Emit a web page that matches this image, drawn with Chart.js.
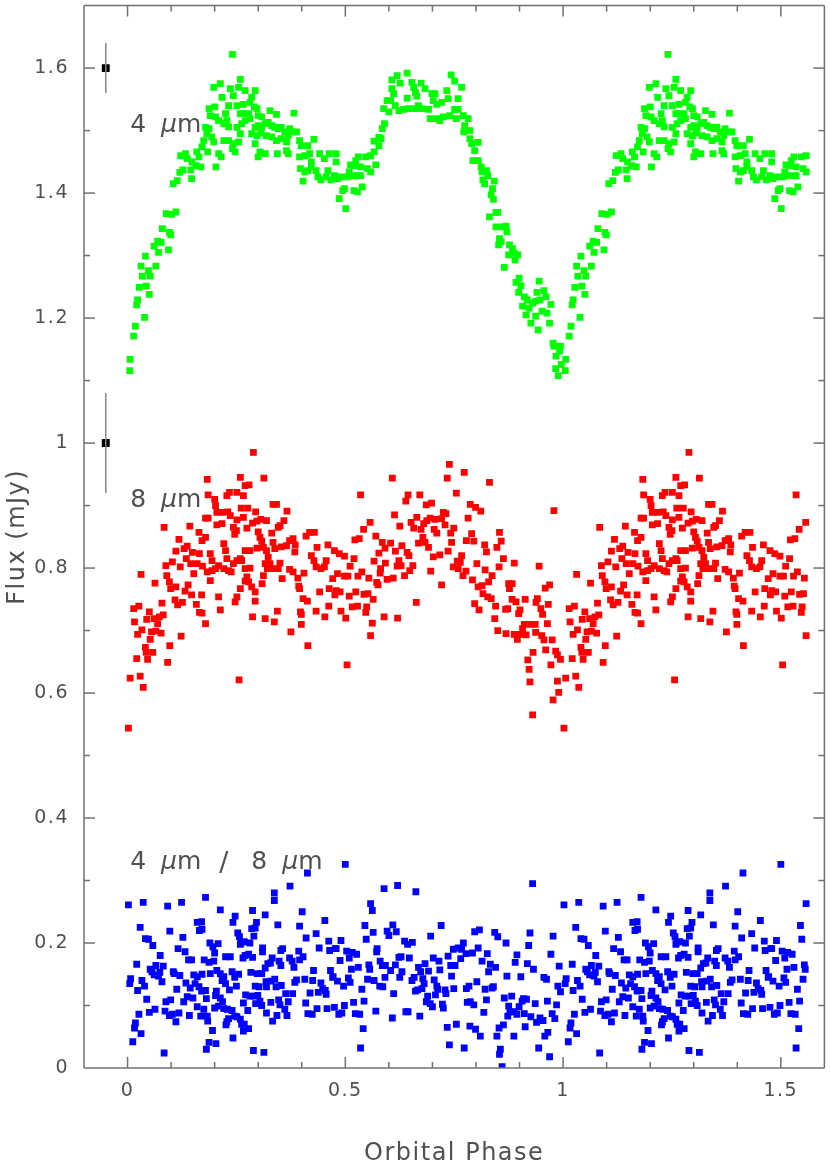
<!DOCTYPE html>
<html>
<head>
<meta charset="utf-8">
<script src="https://cdn.jsdelivr.net/npm/chart.js@4.4.0/dist/chart.umd.min.js"></script>
<style>
  html, body { margin: 0; padding: 0; background: #fff; overflow: hidden; }
  canvas { display: block; }
</style>
</head>
<body>
<canvas id="chart" width="830" height="1160"></canvas>
<script>
// [orbital phase, flux in mJy] for one cycle; phases below lastPhase are repeated at phase + 1
const green = [
  [0.005,1.116],[0.006,1.134],[0.014,1.171],[0.018,1.187],[0.039,1.201],[0.021,1.221],[0.023,1.229],[0.027,1.249],
  [0.043,1.251],[0.050,1.238],[0.034,1.267],[0.052,1.267],[0.031,1.283],[0.048,1.276],[0.065,1.283],[0.041,1.299],
  [0.071,1.305],[0.094,1.309],[0.061,1.315],[0.069,1.323],[0.077,1.321],[0.080,1.343],[0.096,1.337],[0.099,1.333],
  [0.089,1.367],[0.111,1.370],[0.101,1.366],[0.105,1.415],[0.114,1.420],[0.120,1.433],[0.127,1.437],[0.147,1.423],
  [0.122,1.460],[0.133,1.463],[0.137,1.455],[0.148,1.450],[0.157,1.444],[0.168,1.442],[0.145,1.437],[0.164,1.458],
  [0.159,1.466],[0.171,1.474],[0.184,1.466],[0.203,1.442],[0.209,1.463],[0.215,1.458],[0.175,1.484],[0.182,1.495],
  [0.187,1.503],[0.179,1.505],[0.193,1.490],[0.198,1.482],[0.187,1.535],[0.200,1.538],[0.190,1.524],[0.202,1.522],
  [0.209,1.516],[0.221,1.511],[0.228,1.516],[0.225,1.527],[0.232,1.506],[0.221,1.484],[0.232,1.484],[0.241,1.471],
  [0.247,1.466],[0.243,1.479],[0.255,1.482],[0.259,1.495],[0.251,1.505],[0.262,1.511],[0.266,1.527],[0.259,1.527],
  [0.270,1.516],[0.278,1.527],[0.281,1.519],[0.213,1.575],[0.198,1.569],[0.236,1.567],[0.255,1.569],[0.270,1.564],
  [0.293,1.564],[0.285,1.553],[0.281,1.545],[0.217,1.553],[0.243,1.556],[0.232,1.540],[0.251,1.540],[0.266,1.542],
  [0.259,1.582],[0.241,1.622],[0.291,1.538],[0.297,1.535],[0.300,1.524],[0.308,1.522],[0.327,1.532],[0.342,1.526],
  [0.382,1.528],[0.293,1.505],[0.300,1.508],[0.308,1.505],[0.316,1.511],[0.323,1.513],[0.331,1.508],[0.338,1.505],
  [0.346,1.503],[0.353,1.505],[0.361,1.498],[0.372,1.503],[0.380,1.498],[0.285,1.495],[0.297,1.492],[0.306,1.496],
  [0.319,1.492],[0.331,1.490],[0.342,1.484],[0.353,1.487],[0.365,1.482],[0.369,1.492],[0.388,1.498],[0.293,1.479],
  [0.304,1.466],[0.316,1.463],[0.300,1.458],[0.344,1.463],[0.365,1.468],[0.369,1.463],[0.395,1.484],[0.399,1.476],
  [0.414,1.476],[0.428,1.486],[0.395,1.458],[0.407,1.460],[0.418,1.463],[0.422,1.450],[0.441,1.463],[0.452,1.455],
  [0.463,1.463],[0.479,1.463],[0.397,1.439],[0.407,1.434],[0.414,1.436],[0.403,1.419],[0.422,1.442],[0.433,1.436],
  [0.437,1.426],[0.444,1.421],[0.456,1.426],[0.460,1.436],[0.467,1.421],[0.479,1.450],[0.475,1.428],[0.482,1.423],
  [0.490,1.426],[0.498,1.407],[0.486,1.391],[0.501,1.375],[0.520,1.404],[0.509,1.434],[0.520,1.444],[0.524,1.452],
  [0.494,1.404],[0.528,1.402],[0.539,1.410],[0.505,1.426],[0.517,1.428],[0.528,1.428],[0.535,1.428],[0.535,1.442],
  [0.551,1.439],[0.558,1.434],[0.512,1.445],[0.530,1.458],[0.547,1.458],[0.558,1.460],[0.566,1.466],[0.570,1.445],
  [0.577,1.476],[0.566,1.483],[0.577,1.489],[0.582,1.487],[0.585,1.503],[0.590,1.511],[0.588,1.535],[0.600,1.530],
  [0.596,1.548],[0.604,1.548],[0.615,1.540],[0.623,1.532],[0.634,1.534],[0.645,1.535],[0.661,1.535],[0.668,1.540],
  [0.676,1.535],[0.691,1.534],[0.695,1.519],[0.710,1.519],[0.717,1.516],[0.725,1.522],[0.740,1.524],[0.751,1.534],
  [0.759,1.534],[0.755,1.519],[0.771,1.524],[0.782,1.519],[0.607,1.567],[0.611,1.559],[0.607,1.581],[0.619,1.588],
  [0.626,1.576],[0.642,1.592],[0.653,1.577],[0.657,1.569],[0.661,1.561],[0.674,1.576],[0.683,1.567],[0.664,1.555],
  [0.642,1.552],[0.699,1.559],[0.706,1.559],[0.702,1.548],[0.710,1.542],[0.721,1.545],[0.733,1.564],[0.736,1.551],
  [0.743,1.589],[0.751,1.579],[0.767,1.569],[0.759,1.551],[0.774,1.508],[0.778,1.500],[0.772,1.498],[0.786,1.500],
  [0.786,1.487],[0.790,1.479],[0.805,1.481],[0.797,1.468],[0.793,1.452],[0.805,1.452],[0.812,1.442],[0.814,1.434],
  [0.824,1.436],[0.827,1.428],[0.816,1.421],[0.820,1.415],[0.842,1.419],[0.838,1.407],[0.835,1.397],[0.840,1.390],
  [0.831,1.362],[0.846,1.369],[0.850,1.369],[0.846,1.346],[0.861,1.346],[0.869,1.347],[0.871,1.338],[0.854,1.327],
  [0.858,1.322],[0.852,1.317],[0.877,1.317],[0.884,1.311],[0.888,1.304],[0.896,1.301],[0.875,1.301],[0.890,1.293],
  [0.865,1.281],[0.899,1.264],[0.892,1.257],[0.903,1.252],[0.898,1.241],[0.911,1.234],[0.918,1.229],[0.907,1.219],
  [0.922,1.216],[0.915,1.205],[0.930,1.224],[0.937,1.227],[0.940,1.241],[0.947,1.229],[0.945,1.259],[0.956,1.244],
  [0.961,1.234],[0.972,1.222],[0.952,1.211],[0.963,1.208],[0.926,1.192],[0.937,1.203],[0.943,1.181],[0.969,1.192],
  [0.977,1.160],[0.979,1.155],[0.994,1.155],[0.992,1.147],[0.984,1.139],[0.983,1.119],[0.989,1.108],[0.996,1.126]
];

const red = [
  [0.002,0.544],[0.006,0.624],[0.029,0.627],[0.036,0.609],[0.021,0.655],[0.046,0.654],[0.041,0.673],[0.043,0.665],
  [0.058,0.665],[0.052,0.686],[0.023,0.694],[0.033,0.701],[0.055,0.698],[0.065,0.699],[0.077,0.696],[0.092,0.649],
  [0.097,0.676],[0.123,0.691],[0.016,0.714],[0.014,0.735],[0.026,0.739],[0.050,0.730],[0.044,0.718],[0.061,0.719],
  [0.069,0.711],[0.073,0.722],[0.082,0.725],[0.079,0.744],[0.031,0.790],[0.063,0.776],[0.084,0.865],[0.088,0.804],
  [0.090,0.788],[0.096,0.778],[0.099,0.767],[0.111,0.770],[0.109,0.749],[0.115,0.741],[0.126,0.745],[0.103,0.810],
  [0.111,0.827],[0.118,0.846],[0.121,0.802],[0.130,0.831],[0.137,0.835],[0.135,0.815],[0.139,0.773],[0.132,0.763],
  [0.143,0.867],[0.149,0.825],[0.147,0.757],[0.145,0.807],[0.152,0.791],[0.158,0.742],[0.164,0.857],[0.171,0.844],
  [0.165,0.823],[0.160,0.807],[0.172,0.803],[0.179,0.849],[0.170,0.757],[0.165,0.729],[0.171,0.728],[0.179,0.711],
  [0.179,0.880],[0.185,0.880],[0.183,0.942],[0.185,0.917],[0.183,0.794],[0.190,0.823],[0.194,0.812],[0.200,0.910],
  [0.202,0.900],[0.205,0.889],[0.190,0.780],[0.194,0.796],[0.202,0.799],[0.209,0.804],[0.209,0.754],[0.213,0.733],
  [0.205,0.869],[0.217,0.871],[0.221,0.839],[0.225,0.828],[0.228,0.815],[0.217,0.889],[0.230,0.890],[0.236,0.884],
  [0.228,0.916],[0.234,0.921],[0.251,0.921],[0.259,0.945],[0.266,0.916],[0.270,0.932],[0.279,0.933],[0.289,0.985],
  [0.313,0.944],[0.221,0.799],[0.232,0.796],[0.238,0.794],[0.243,0.807],[0.251,0.812],[0.243,0.865],[0.250,0.860],
  [0.246,0.854],[0.251,0.877],[0.261,0.896],[0.266,0.881],[0.274,0.864],[0.276,0.896],[0.287,0.872],[0.294,0.890],
  [0.297,0.875],[0.306,0.878],[0.319,0.876],[0.300,0.858],[0.304,0.849],[0.308,0.843],[0.297,0.832],[0.312,0.833],
  [0.319,0.828],[0.331,0.856],[0.334,0.841],[0.338,0.831],[0.342,0.902],[0.334,0.902],[0.346,0.865],[0.350,0.868],
  [0.359,0.876],[0.366,0.891],[0.353,0.834],[0.365,0.836],[0.372,0.844],[0.380,0.847],[0.385,0.837],[0.384,0.826],
  [0.270,0.828],[0.281,0.828],[0.259,0.815],[0.270,0.799],[0.281,0.800],[0.262,0.812],[0.274,0.786],[0.270,0.779],
  [0.278,0.778],[0.285,0.770],[0.259,0.767],[0.251,0.754],[0.247,0.746],[0.293,0.762],[0.293,0.747],[0.312,0.788],
  [0.309,0.775],[0.316,0.807],[0.321,0.799],[0.327,0.807],[0.334,0.799],[0.323,0.817],[0.346,0.799],[0.350,0.808],
  [0.355,0.783],[0.372,0.798],[0.380,0.794],[0.391,0.784],[0.405,0.792],[0.287,0.722],[0.316,0.719],[0.337,0.714],
  [0.344,0.731],[0.375,0.698],[0.256,0.621],[0.393,0.771],[0.395,0.767],[0.403,0.751],[0.413,0.747],[0.397,0.730],
  [0.399,0.726],[0.414,0.676],[0.410,0.851],[0.418,0.857],[0.429,0.857],[0.435,0.833],[0.422,0.820],[0.428,0.812],
  [0.433,0.802],[0.444,0.799],[0.452,0.802],[0.456,0.812],[0.460,0.837],[0.475,0.828],[0.441,0.762],[0.463,0.767],
  [0.471,0.783],[0.433,0.731],[0.453,0.722],[0.462,0.739],[0.399,0.710],[0.486,0.823],[0.498,0.819],[0.511,0.803],
  [0.520,0.815],[0.482,0.791],[0.498,0.787],[0.506,0.787],[0.479,0.764],[0.488,0.762],[0.476,0.757],[0.509,0.755],
  [0.524,0.762],[0.490,0.731],[0.501,0.720],[0.516,0.738],[0.528,0.739],[0.504,0.645],[0.535,0.917],[0.522,0.845],
  [0.532,0.847],[0.542,0.862],[0.557,0.873],[0.570,0.851],[0.577,0.824],[0.585,0.841],[0.591,0.832],[0.604,0.840],
  [0.566,0.811],[0.581,0.799],[0.592,0.808],[0.580,0.792],[0.529,0.787],[0.538,0.794],[0.554,0.784],[0.572,0.777],
  [0.575,0.773],[0.596,0.782],[0.610,0.784],[0.543,0.758],[0.552,0.759],[0.564,0.750],[0.549,0.738],[0.547,0.729],
  [0.562,0.712],[0.558,0.692],[0.589,0.722],[0.620,0.720],[0.608,0.944],[0.644,0.917],[0.639,0.907],[0.671,0.917],
  [0.613,0.885],[0.625,0.867],[0.615,0.827],[0.630,0.836],[0.642,0.825],[0.646,0.820],[0.623,0.812],[0.628,0.804],
  [0.619,0.803],[0.655,0.804],[0.648,0.796],[0.636,0.788],[0.663,0.745],[0.651,0.873],[0.657,0.864],[0.664,0.881],
  [0.674,0.862],[0.680,0.871],[0.687,0.876],[0.695,0.880],[0.706,0.878],[0.686,0.901],[0.698,0.904],[0.725,0.889],
  [0.731,0.887],[0.721,0.879],[0.729,0.869],[0.668,0.840],[0.678,0.849],[0.683,0.841],[0.691,0.833],[0.704,0.862],
  [0.710,0.856],[0.717,0.821],[0.702,0.818],[0.696,0.795],[0.721,0.773],[0.736,0.827],[0.742,0.856],[0.749,0.864],
  [0.744,0.841],[0.739,0.966],[0.734,0.944],[0.755,0.920],[0.773,0.953],[0.831,0.937],[0.787,0.902],[0.799,0.897],
  [0.811,0.891],[0.782,0.880],[0.790,0.855],[0.778,0.844],[0.795,0.843],[0.748,0.802],[0.759,0.799],[0.757,0.811],
  [0.767,0.820],[0.764,0.809],[0.777,0.795],[0.770,0.788],[0.792,0.781],[0.802,0.807],[0.820,0.837],[0.824,0.826],
  [0.821,0.797],[0.837,0.788],[0.829,0.778],[0.854,0.857],[0.858,0.843],[0.848,0.833],[0.863,0.815],[0.853,0.802],
  [0.888,0.808],[0.805,0.770],[0.814,0.772],[0.816,0.759],[0.827,0.754],[0.835,0.751],[0.797,0.743],[0.807,0.733],
  [0.845,0.739],[0.843,0.719],[0.850,0.700],[0.868,0.734],[0.873,0.735],[0.869,0.695],[0.875,0.775],[0.883,0.775],
  [0.877,0.767],[0.883,0.750],[0.892,0.746],[0.901,0.733],[0.898,0.727],[0.913,0.750],[0.941,0.751],[0.945,0.803],
  [0.959,0.768],[0.969,0.773],[0.938,0.745],[0.949,0.735],[0.953,0.726],[0.966,0.742],[0.964,0.711],[0.911,0.710],
  [0.907,0.703],[0.926,0.710],[0.936,0.710],[0.915,0.693],[0.903,0.694],[0.894,0.693],[0.888,0.694],[0.895,0.686],
  [0.937,0.697],[0.951,0.692],[0.956,0.685],[0.975,0.685],[0.979,0.892],[0.931,0.665],[0.919,0.653],[0.922,0.638],
  [0.924,0.618],[0.930,0.565],[0.960,0.669],[0.983,0.667],[0.987,0.661],[0.994,0.654],[0.972,0.645],[0.987,0.619],
  [0.990,0.601],[0.977,0.589]
];

const blue = [
  [0.002,0.261],[0.036,0.265],[0.092,0.259],[0.124,0.265],[0.179,0.273],[0.213,0.253],[0.247,0.243],[0.287,0.252],
  [0.316,0.245],[0.337,0.280],[0.337,0.268],[0.373,0.291],[0.413,0.312],[0.401,0.250],[0.453,0.236],[0.395,0.227],
  [0.345,0.229],[0.029,0.225],[0.097,0.219],[0.160,0.233],[0.170,0.234],[0.165,0.220],[0.171,0.222],[0.242,0.233],
  [0.296,0.233],[0.285,0.223],[0.293,0.224],[0.253,0.216],[0.257,0.210],[0.290,0.211],[0.041,0.207],[0.048,0.206],
  [0.058,0.196],[0.127,0.209],[0.116,0.191],[0.132,0.186],[0.189,0.200],[0.196,0.194],[0.208,0.199],[0.200,0.184],
  [0.261,0.201],[0.268,0.202],[0.281,0.200],[0.259,0.198],[0.310,0.192],[0.310,0.186],[0.352,0.188],[0.356,0.191],
  [0.410,0.208],[0.433,0.215],[0.462,0.203],[0.440,0.192],[0.464,0.188],[0.477,0.191],[0.075,0.180],[0.021,0.166],
  [0.065,0.164],[0.082,0.163],[0.052,0.158],[0.056,0.154],[0.061,0.149],[0.071,0.147],[0.074,0.153],[0.079,0.138],
  [0.007,0.143],[0.005,0.135],[0.033,0.140],[0.039,0.131],[0.023,0.124],[0.044,0.110],[0.140,0.173],[0.147,0.173],
  [0.176,0.173],[0.187,0.169],[0.198,0.171],[0.225,0.178],[0.236,0.178],[0.265,0.176],[0.270,0.180],[0.278,0.182],
  [0.287,0.177],[0.322,0.167],[0.328,0.168],[0.332,0.176],[0.348,0.171],[0.352,0.164],[0.372,0.176],[0.378,0.171],
  [0.382,0.161],[0.393,0.187],[0.395,0.173],[0.403,0.178],[0.105,0.154],[0.107,0.151],[0.120,0.148],[0.113,0.126],
  [0.134,0.136],[0.144,0.128],[0.152,0.149],[0.160,0.146],[0.171,0.150],[0.155,0.135],[0.164,0.130],[0.170,0.123],
  [0.179,0.124],[0.190,0.151],[0.205,0.156],[0.213,0.151],[0.221,0.146],[0.217,0.140],[0.225,0.135],[0.240,0.154],
  [0.246,0.145],[0.255,0.150],[0.250,0.131],[0.234,0.125],[0.204,0.123],[0.283,0.153],[0.298,0.151],[0.308,0.151],
  [0.316,0.160],[0.318,0.138],[0.293,0.131],[0.302,0.130],[0.329,0.139],[0.338,0.142],[0.341,0.130],[0.353,0.132],
  [0.319,0.130],[0.384,0.137],[0.388,0.141],[0.407,0.142],[0.425,0.140],[0.444,0.136],[0.448,0.127],[0.438,0.121],
  [0.454,0.124],[0.456,0.118],[0.466,0.156],[0.472,0.146],[0.427,0.156],[0.419,0.120],[0.379,0.119],[0.363,0.119],
  [0.347,0.109],[0.350,0.101],[0.369,0.106],[0.361,0.094],[0.366,0.084],[0.343,0.084],[0.333,0.075],[0.329,0.105],
  [0.319,0.088],[0.304,0.107],[0.308,0.100],[0.294,0.103],[0.281,0.115],[0.271,0.117],[0.289,0.115],[0.299,0.116],
  [0.276,0.092],[0.266,0.104],[0.409,0.104],[0.435,0.095],[0.414,0.087],[0.424,0.086],[0.458,0.095],[0.475,0.097],
  [0.129,0.106],[0.137,0.114],[0.150,0.112],[0.160,0.098],[0.175,0.094],[0.181,0.111],[0.202,0.116],[0.213,0.112],
  [0.218,0.106],[0.200,0.096],[0.209,0.099],[0.221,0.095],[0.229,0.094],[0.240,0.092],[0.246,0.083],[0.251,0.082],
  [0.232,0.079],[0.228,0.074],[0.226,0.069],[0.259,0.078],[0.262,0.070],[0.268,0.070],[0.278,0.063],[0.266,0.059],
  [0.183,0.083],[0.184,0.075],[0.168,0.083],[0.142,0.084],[0.118,0.088],[0.103,0.086],[0.096,0.084],[0.086,0.091],
  [0.088,0.106],[0.099,0.109],[0.063,0.094],[0.050,0.089],[0.026,0.086],[0.018,0.072],[0.016,0.064],[0.031,0.055],
  [0.012,0.042],[0.111,0.074],[0.195,0.060],[0.242,0.048],[0.084,0.024],[0.181,0.030],[0.187,0.041],[0.203,0.039],
  [0.289,0.028],[0.313,0.025],[0.500,0.326],[0.589,0.287],[0.620,0.292],[0.662,0.282],[0.930,0.295],[0.558,0.263],
  [0.562,0.252],[0.545,0.228],[0.564,0.217],[0.548,0.206],[0.609,0.229],[0.596,0.219],[0.600,0.212],[0.617,0.218],
  [0.720,0.228],[0.696,0.211],[0.636,0.203],[0.643,0.198],[0.654,0.201],[0.797,0.218],[0.808,0.221],[0.843,0.217],
  [0.850,0.210],[0.869,0.200],[0.924,0.216],[0.977,0.211],[0.921,0.196],[0.490,0.204],[0.479,0.191],[0.503,0.187],
  [0.516,0.185],[0.526,0.182],[0.573,0.191],[0.572,0.186],[0.509,0.176],[0.488,0.172],[0.580,0.171],[0.585,0.164],
  [0.554,0.165],[0.556,0.158],[0.530,0.161],[0.514,0.158],[0.592,0.164],[0.604,0.156],[0.615,0.165],[0.623,0.177],
  [0.628,0.178],[0.647,0.176],[0.630,0.154],[0.625,0.145],[0.668,0.161],[0.673,0.154],[0.683,0.167],[0.691,0.155],
  [0.702,0.176],[0.715,0.171],[0.717,0.157],[0.736,0.179],[0.748,0.190],[0.759,0.192],[0.767,0.190],[0.771,0.200],
  [0.777,0.183],[0.765,0.175],[0.792,0.184],[0.805,0.192],[0.826,0.183],[0.814,0.171],[0.833,0.166],[0.845,0.161],
  [0.829,0.154],[0.742,0.164],[0.752,0.164],[0.744,0.147],[0.890,0.169],[0.894,0.181],[0.918,0.167],[0.932,0.158],
  [0.972,0.182],[0.991,0.163],[0.871,0.147],[0.903,0.146],[0.956,0.145],[0.962,0.142],[0.471,0.145],[0.482,0.139],
  [0.496,0.131],[0.507,0.144],[0.511,0.137],[0.551,0.142],[0.566,0.140],[0.579,0.131],[0.586,0.130],[0.591,0.145],
  [0.653,0.140],[0.658,0.145],[0.678,0.143],[0.681,0.135],[0.676,0.127],[0.661,0.123],[0.666,0.125],[0.704,0.141],
  [0.710,0.131],[0.712,0.126],[0.729,0.125],[0.731,0.119],[0.707,0.117],[0.689,0.115],[0.686,0.106],[0.695,0.103],
  [0.700,0.098],[0.723,0.102],[0.725,0.096],[0.749,0.127],[0.778,0.127],[0.784,0.131],[0.802,0.138],[0.821,0.126],
  [0.837,0.128],[0.840,0.130],[0.824,0.109],[0.780,0.105],[0.787,0.106],[0.795,0.101],[0.818,0.089],[0.865,0.112],
  [0.882,0.115],[0.875,0.099],[0.878,0.090],[0.873,0.083],[0.888,0.090],[0.894,0.086],[0.899,0.098],[0.906,0.107],
  [0.909,0.111],[0.916,0.110],[0.911,0.087],[0.936,0.103],[0.964,0.107],[0.985,0.101],[0.994,0.122],[0.988,0.131],
  [0.926,0.082],[0.947,0.080],[0.954,0.076],[0.939,0.073],[0.975,0.087],[0.981,0.079],[0.913,0.066],[0.863,0.069],
  [0.853,0.064],[0.848,0.051],[0.887,0.051],[0.965,0.057],[0.958,0.051],[0.786,0.067],[0.799,0.062],[0.810,0.051],
  [0.755,0.070],[0.734,0.065],[0.739,0.037],[0.773,0.032],[0.856,0.030],[0.854,0.022],[0.860,0.002],[0.944,0.032],
  [0.969,0.018],[0.671,0.083],[0.639,0.090],[0.644,0.090],[0.608,0.080],[0.570,0.091],[0.541,0.063],[0.535,0.032],
  [0.523,0.087],[0.533,0.086],[0.543,0.107],[0.538,0.126],[0.519,0.105],[0.498,0.100],[0.492,0.088],[0.485,0.086],
  [0.611,0.119]
];

// typical error bars: [phase, flux, half-length]
const errorBars = [[-0.05, 1.6, 0.04], [-0.05, 1.0, 0.08]];

// series labels: [phase, flux at text baseline, text pieces]
const seriesLabels = [
  [0.006, 1.498, ['4', 'μm']],
  [0.006, 0.897, ['8', 'μm']],
  [0.006, 0.319, ['4', 'μm', '/', '8', 'μm']]
];

const lastPhase = 1.56;
const FONT = "'DejaVu Sans', sans-serif";
const INK = '#505050';
const AXIS = '#707070';

function near(v, step) {
  return Math.abs(v / step - Math.round(v / step)) < 1e-6;
}
function fmt(v) {
  return String(Math.round(v * 10) / 10);
}
function fold(pairs) {
  const pts = pairs.map(p => ({x: p[0], y: p[1]}));
  pairs.forEach(p => {
    if (p[0] + 1 <= lastPhase) pts.push({x: p[0] + 1, y: p[1]});
  });
  return pts;
}

function scatterSet(pairs, color) {
  return {
    data: fold(pairs),
    pointStyle: 'rect',
    pointRadius: 4.8,
    backgroundColor: color,
    borderColor: color,
    borderWidth: 0
  };
}

const datasets = [
  scatterSet(green, '#00ff00'),
  scatterSet(red, '#ff0000'),
  scatterSet(blue, '#0000ff')
];
errorBars.forEach(e => {
  datasets.push({
    type: 'line',
    data: [{x: e[0], y: e[1] - e[2]}, {x: e[0], y: e[1] + e[2]}],
    borderColor: '#888',
    borderWidth: 1.5,
    pointRadius: 0,
    showLine: true
  });
});
datasets.push({
  data: errorBars.map(e => ({x: e[0], y: e[1]})),
  pointStyle: 'rect',
  pointRadius: 5.6,
  backgroundColor: '#000',
  borderWidth: 0
});

function line(ctx, x1, y1, x2, y2) {
  ctx.beginPath();
  ctx.moveTo(x1, y1);
  ctx.lineTo(x2, y2);
  ctx.stroke();
}

// wide lettering for the axis text, like the plotting font of the original
const spacingPlugin = {
  id: 'spacing',
  beforeDraw(chart) {
    chart.ctx.letterSpacing = '1.5px';
  }
};

// frame with inward ticks on all four sides
const framePlugin = {
  id: 'frame',
  afterDatasetsDraw(chart) {
    const {ctx, chartArea: a, scales: {x, y}} = chart;
    ctx.save();
    ctx.globalAlpha = 1;
    ctx.setLineDash([]);
    ctx.strokeStyle = AXIS;
    ctx.lineWidth = 1.5;
    line(ctx, a.left, a.top, a.right, a.top);
    line(ctx, a.right, a.top, a.right, a.bottom);
    line(ctx, a.left, a.bottom, a.right, a.bottom);
    line(ctx, a.left, a.top, a.left, a.bottom);
    x.ticks.forEach(t => {
      const px = x.getPixelForValue(t.value);
      if (px <= a.left + 1 || px >= a.right - 1) return;
      const len = near(t.value, 0.5) ? 11 : 6;
      line(ctx, px, a.bottom, px, a.bottom - len);
      line(ctx, px, a.top, px, a.top + len);
    });
    y.ticks.forEach(t => {
      const py = y.getPixelForValue(t.value);
      if (py <= a.top + 1 || py >= a.bottom - 1) return;
      const len = near(t.value, 0.2) ? 11 : 6;
      line(ctx, a.left, py, a.left + len, py);
      line(ctx, a.right, py, a.right - len, py);
    });
    ctx.restore();
  }
};

// series labels anchored at data coordinates
const labelPlugin = {
  id: 'seriesLabels',
  afterDraw(chart) {
    const {ctx, scales: {x, y}} = chart;
    ctx.save();
    ctx.letterSpacing = '0px';
    ctx.fillStyle = INK;
    ctx.textBaseline = 'alphabetic';
    ctx.textAlign = 'left';
    seriesLabels.forEach(([phase, flux, parts]) => {
      let px = x.getPixelForValue(phase);
      const py = y.getPixelForValue(flux);
      parts.forEach(part => {
        let w = 0;
        if (part.startsWith('μ')) {
          ctx.font = 'italic 25px ' + FONT;
          ctx.fillText('μ', px, py);
          w += ctx.measureText('μ').width;
          ctx.font = '25px ' + FONT;
          ctx.fillText(part.slice(1), px + w, py);
          w += ctx.measureText(part.slice(1)).width;
        } else if (part === '/') {
          ctx.font = '27px ' + FONT;
          ctx.fillText(part, px + 3, py + 2);
          w = 20;
        } else {
          ctx.font = '25px ' + FONT;
          ctx.fillText(part, px, py);
          w += ctx.measureText(part).width;
        }
        px += w + 15;
      });
    });
    ctx.restore();
  }
};

new Chart(document.getElementById('chart'), {
  type: 'scatter',
  data: {datasets: datasets},
  options: {
    responsive: false,
    devicePixelRatio: 1,
    animation: false,
    events: [],
    layout: {padding: {top: 2, right: 1, left: 0, bottom: 0}},
    plugins: {legend: {display: false}, tooltip: {enabled: false}},
    scales: {
      x: {
        type: 'linear',
        min: -0.1,
        max: 1.6,
        afterFit: s => { s.height = 92; s.paddingLeft = 0; s.paddingRight = 0; },
        border: {display: false},
        grid: {display: false, drawTicks: false},
        ticks: {
          stepSize: 0.1,
          autoSkip: false,
          maxRotation: 0,
          padding: 12,
          color: INK,
          font: {family: FONT, size: 19},
          callback: v => near(v, 0.5) ? fmt(v) : ''
        },
        title: {
          display: true,
          text: 'Orbital Phase',
          color: INK,
          font: {family: FONT, size: 24, lineHeight: 0.5},
          padding: {top: 0, bottom: 0}
        }
      },
      y: {
        type: 'linear',
        min: 0,
        max: 1.7,
        afterFit: s => { s.width = 84; s.paddingTop = 0; s.paddingBottom = 0; },
        border: {display: false},
        grid: {display: false, drawTicks: false},
        ticks: {
          stepSize: 0.1,
          autoSkip: false,
          padding: 15,
          color: INK,
          font: {family: FONT, size: 19},
          callback: v => near(v, 0.2) ? fmt(v) : ''
        },
        title: {
          display: true,
          text: 'Flux (mJy)',
          color: INK,
          font: {family: FONT, size: 24, lineHeight: 1},
          padding: {top: 6, bottom: 0}
        }
      }
    }
  },
  plugins: [spacingPlugin, framePlugin, labelPlugin]
});
</script>
</body>
</html>
